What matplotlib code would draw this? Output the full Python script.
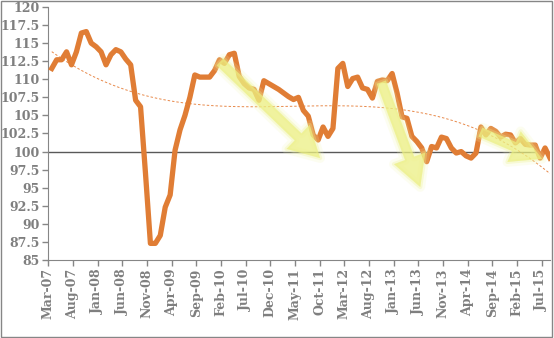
import numpy as np
import matplotlib
matplotlib.use('Agg')
import matplotlib.pyplot as plt
from matplotlib.patches import FancyArrowPatch, Rectangle
import matplotlib.patheffects as pe

# monthly index values, Mar-07 .. Aug-15
vals = [111.5, 112.7, 112.7, 113.8, 112.0, 113.8, 116.4, 116.6, 115.0, 114.5,
        113.8, 112.0, 113.4, 114.1, 113.8, 112.8, 112.0, 107.1, 106.2, 97.0,
        87.3, 87.3, 88.4, 92.3, 94.0, 100.2, 103.0, 105.0, 107.5, 110.6,
        110.3, 110.3, 110.3, 111.2, 112.7, 112.2, 113.4, 113.6, 110.4, 109.4,
        108.8, 108.6, 107.1, 109.8, 109.4, 109.0, 108.6, 108.1, 107.6, 107.2,
        107.5, 105.7, 104.9, 102.3, 101.6, 103.4, 102.1, 103.2, 111.5, 112.2,
        109.0, 110.1, 110.3, 108.8, 108.6, 107.4, 109.7, 109.9, 109.8, 110.8,
        108.1, 104.8, 104.6, 102.1, 101.4, 100.5, 98.6, 100.7, 100.5, 102.0,
        101.8, 100.5, 99.8, 100.0, 99.4, 99.1, 99.8, 103.4, 102.3, 103.2,
        102.8, 102.0, 102.4, 102.3, 101.2, 101.8, 101.0, 100.9, 100.9, 99.1,
        100.5, 99.1]

tick_labels = ['Mar-07', 'Aug-07', 'Jan-08', 'Jun-08', 'Nov-08', 'Apr-09',
               'Sep-09', 'Feb-10', 'Jul-10', 'Dec-10', 'May-11', 'Oct-11',
               'Mar-12', 'Aug-12', 'Jan-13', 'Jun-13', 'Nov-13', 'Apr-14',
               'Sep-14', 'Feb-15', 'Jul-15']

# trend arrows: (start month, start value, end month, end value)
arrows = [(34.8, 112.4, 55.1, 99.1),
          (67.5, 109.6, 75.4, 95.1),
          (87.6, 102.7, 100.1, 99.0)]

gray = '#7f7f7f'
orange = '#e07d35'

# data points sit a bit after the month tick
x = np.arange(len(vals)) + 0.7
y = np.array(vals)

fig = plt.figure(figsize=(5.54, 3.38), dpi=100)
ax = fig.add_axes([48.3/554, 1-260/338, (550-48.3)/554, 253/338])

ax.axhline(100, color='#595959', lw=1, zorder=1)
ax.plot(x, y, color=orange, lw=3.8, solid_joinstyle='round', zorder=3)

# polynomial trendline (3rd order)
coef = np.polyfit(x, y, 3)
xt = np.linspace(x[0], x[-1], 300)
ax.plot(xt, np.polyval(coef, xt), color='#e8894a', lw=0.7, ls=(0, (2.5, 2)), zorder=2)

for x0, y0, x1, y1 in arrows:
    arr = FancyArrowPatch((x0, y0), (x1, y1),
                          arrowstyle='simple,head_width=2.4,head_length=2.2,tail_width=0.7',
                          mutation_scale=10, shrinkA=0, shrinkB=0,
                          color='#ecf07e', alpha=0.5, lw=0, zorder=4)
    arr.set_path_effects([pe.Stroke(linewidth=7, foreground='#f2f5b0', alpha=0.18),
                          pe.Stroke(linewidth=3, foreground='#eef290', alpha=0.3),
                          pe.Normal()])
    ax.add_patch(arr)

ax.set_xlim(0, 101.7)
ax.set_ylim(85, 120)
ax.set_yticks(np.arange(85, 120.1, 2.5))
ax.set_yticklabels(['%g' % v for v in np.arange(85, 120.1, 2.5)])
ax.set_xticks(np.arange(0, 101, 5))
ax.set_xticklabels(tick_labels, rotation=90)

for lab in ax.get_xticklabels() + ax.get_yticklabels():
    lab.set_family('DejaVu Serif')
    lab.set_weight('bold')
    lab.set_fontsize(9)
    lab.set_color(gray)

ax.tick_params(axis='both', color='#868686', length=4, width=1, pad=2)
ax.spines['top'].set_visible(False)
ax.spines['right'].set_visible(False)
ax.spines['left'].set_color('#868686')
ax.spines['bottom'].set_color('#868686')

fig.add_artist(Rectangle((1/554, 1/338), 551/554, 336/338, transform=fig.transFigure,
                         fill=False, edgecolor='#868686', lw=1))

fig.savefig('out.png', dpi=100)
